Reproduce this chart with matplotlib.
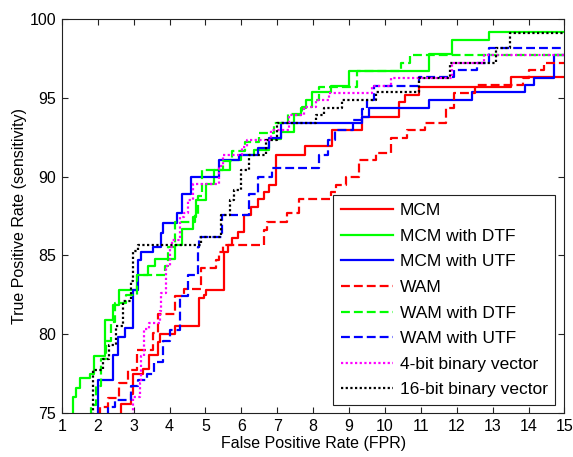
"""ROC curves (TPR vs FPR) for the MCM / WAM matching variants."""
import matplotlib
matplotlib.use("Agg")
import matplotlib.pyplot as plt

plt.rcParams["font.family"] = ["Liberation Sans", "DejaVu Sans"]

# ---- data (FPR %, TPR %) ----
mcm_fpr = [2.66, 2.66, 2.93, 2.98, 3.25, 3.44, 3.67, 3.72, 4.14, 4.83, 4.95, 5.02, 5.53, 5.62, 5.75,
           5.9, 6.08, 6.27, 6.45, 6.62, 6.78, 6.96, 7.78, 8.53, 9.36, 10.39, 10.55, 10.94, 13.5, 15]
mcm_tpr = [74, 75.6, 76.2, 77.5, 77.8, 78.7, 79.5, 80.0, 80.5, 82.3, 82.5, 82.8, 85.2, 85.65, 86.1,
           86.5, 87.56, 88.1, 88.6, 89.0, 89.5, 91.37, 91.94, 92.96, 93.8, 94.75, 95.18, 95.7, 96.3, 96.3]

mcm_dtf_fpr = [1.3, 1.3, 1.38, 1.5, 1.78, 1.9, 2.2, 2.42, 2.6, 3.1, 3.4, 3.6, 4.14, 4.36, 4.64, 4.74,
               5.02, 5.25, 5.67, 6.0, 6.36, 6.78, 7.1, 7.47, 7.66, 7.8, 7.98, 8.5, 9.0, 11.22, 11.87,
               12.9, 15]
mcm_dtf_tpr = [74, 76.0, 76.6, 77.2, 77.5, 78.6, 80.9, 81.85, 82.8, 83.76, 84.3, 84.8, 85.65, 86.7,
               87.45, 88.5, 89.56, 90.4, 91.05, 91.4, 91.7, 92.4, 92.85, 93.9, 94.35, 94.86, 95.4,
               95.75, 96.73, 97.8, 98.67, 99.15, 99.15]

mcm_utf_fpr = [2.0, 2.0, 2.42, 2.56, 2.75, 2.97, 3.11, 3.2, 3.53, 3.77, 3.81, 4.2, 4.36, 4.6, 5.39,
               5.94, 6.45, 6.78, 7.1, 9.36, 9.56, 11.22, 12.43, 13.9, 14.14, 14.7, 15]
mcm_utf_tpr = [74, 77.1, 78.7, 79.8, 80.4, 82.8, 84.7, 85.2, 85.55, 86.4, 87.05, 87.7, 88.9, 90.0,
               91.05, 91.37, 91.8, 92.45, 93.38, 93.8, 94.35, 94.86, 95.4, 95.8, 96.24, 97.7, 97.7]

wam_fpr = [2.06, 2.06, 2.28, 2.6, 2.83, 3.08, 3.53, 3.67, 4.14, 4.4, 4.88, 5.3, 5.39, 5.5, 6.64,
           6.72, 7.28, 7.61, 8.49, 8.63, 8.91, 9.28, 9.74, 10.16, 10.61, 11.13, 11.69, 11.92, 12.5,
           13.86, 14.0, 14.42, 15]
wam_tpr = [74, 75.4, 75.95, 76.9, 77.7, 79.0, 80.1, 81.3, 82.4, 82.9, 84.2, 84.7, 85.2, 85.65, 86.6,
           87.1, 87.67, 88.6, 89.0, 89.47, 90.0, 91.05, 91.48, 92.43, 92.96, 93.4, 94.33, 95.28,
           95.8, 96.24, 96.76, 97.2, 97.2]

wam_dtf_fpr = [1.82, 1.82, 1.96, 2.1, 2.24, 2.38, 2.47, 2.8, 3.08, 3.86, 3.95, 4.14, 4.7, 4.8, 4.9,
               5.5, 5.75, 6.1, 6.5, 6.9, 7.3, 7.7, 7.97, 8.17, 9.23, 10.45, 10.7, 15]
wam_dtf_tpr = [74, 75.5, 76.7, 78.4, 79.6, 80.8, 82.0, 82.5, 83.76, 84.3, 85.55, 87.1, 87.6, 88.8,
               90.4, 91.0, 91.6, 92.2, 92.8, 93.4, 94.0, 94.4, 94.86, 95.7, 96.72, 97.2, 97.7, 97.7]

wam_utf_fpr = [2.28, 2.28, 2.47, 2.93, 3.11, 3.36, 3.58, 3.81, 4.0, 4.28, 4.5, 4.78, 4.83, 5.45,
               6.2, 6.45, 6.86, 8.17, 8.4, 8.6, 9.1, 9.35, 9.5, 9.7, 10.94, 11.92, 12.56, 12.9, 15]
wam_utf_tpr = [74, 75.4, 75.8, 76.7, 77.1, 77.5, 78.25, 79.6, 80.27, 82.4, 83.76, 85.55, 86.2, 87.56,
               88.9, 90.0, 90.55, 91.4, 92.3, 92.96, 93.6, 94.3, 94.86, 95.77, 96.3, 96.76, 97.2,
               98.14, 98.14]

bv4_fpr = [2.98, 2.98, 3.17, 3.21, 3.3, 3.44, 3.72, 3.77, 3.9, 4.0, 4.08, 4.28, 4.4, 4.5, 4.64,
           5.39, 5.5, 6.03, 6.17, 6.83, 7.33, 7.75, 8.07, 8.44, 9.64, 10.16, 11.87, 12.75, 15]
bv4_tpr = [74, 76.0, 76.9, 78.6, 80.3, 80.7, 81.5, 82.6, 84.3, 85.55, 86.0, 87.45, 87.7, 88.5, 89.56,
           90.7, 91.37, 91.9, 92.3, 92.96, 93.9, 94.43, 94.86, 95.28, 95.75, 96.24, 97.23, 97.7, 97.7]

bv16_fpr = [1.87, 1.87, 2.14, 2.3, 2.52, 2.7, 2.93, 2.98, 3.12, 4.88, 5.44, 5.67, 5.8, 5.99, 6.22,
            6.69, 7.0, 8.07, 8.3, 8.8, 9.74, 10.94, 11.82, 13.1, 13.49, 15]
bv16_tpr = [74, 77.7, 78.4, 79.3, 80.5, 82.1, 83.4, 85.3, 85.65, 86.2, 87.56, 88.5, 89.15, 90.4,
            91.37, 92.3, 93.38, 93.9, 94.35, 94.86, 95.4, 96.24, 97.2, 98.14, 99.13, 99.13]

labels = ["MCM", "MCM with DTF", "MCM with UTF", "WAM", "WAM with DTF", "WAM with UTF",
          "4-bit binary vector", "16-bit binary vector"]

DASH = (0, (4, 1.8))
DOT = (0, (1, 1.1))
STYLES = [
    ("#ff0000", "-"), ("#00ff00", "-"), ("#0000ff", "-"),
    ("#ff0000", DASH), ("#00ff00", DASH), ("#0000ff", DASH),
    ("#ff00ff", DOT), ("#000000", DOT),
]
FS = 11.5
LEG_FS = 12.5


def main():
    curves = [(mcm_fpr, mcm_tpr), (mcm_dtf_fpr, mcm_dtf_tpr), (mcm_utf_fpr, mcm_utf_tpr),
              (wam_fpr, wam_tpr), (wam_dtf_fpr, wam_dtf_tpr), (wam_utf_fpr, wam_utf_tpr),
              (bv4_fpr, bv4_tpr), (bv16_fpr, bv16_tpr)]

    fig = plt.figure(figsize=(5.73, 4.57), dpi=100)
    ax = fig.add_axes([0.108, 0.0963, 0.877, 0.862])
    for (x, y), (color, ls), lab in zip(curves, STYLES, labels):
        ax.step(x, y, where="post", color=color, linestyle=ls, linewidth=1.6, label=lab)

    ax.set_xlim(1, 15)
    ax.set_ylim(75, 100)
    ax.set_xticks(range(1, 16))
    ax.set_yticks(range(75, 101, 5))
    ax.tick_params(direction="in", top=True, right=True, length=4, width=0.8,
                   labelsize=FS, pad=4, colors="#222222", labelcolor="black")
    for sp in ax.spines.values():
        sp.set_linewidth(0.8)
        sp.set_color("#222222")
    ax.set_xlabel("False Positive Rate (FPR)", fontsize=FS, labelpad=2)
    ax.set_ylabel("True Positive Rate (sensitivity)", fontsize=FS, labelpad=2)

    leg = ax.legend(loc="lower right", bbox_to_anchor=(0.982, 0.02), borderaxespad=0,
                    fontsize=LEG_FS, handlelength=3.05, handletextpad=0.35, labelspacing=0.6,
                    borderpad=0.45, fancybox=False, framealpha=1)
    leg.get_frame().set_edgecolor("#222222")
    leg.get_frame().set_linewidth(0.8)

    fig.savefig("out.png", dpi=100)


if __name__ == "__main__":
    main()
